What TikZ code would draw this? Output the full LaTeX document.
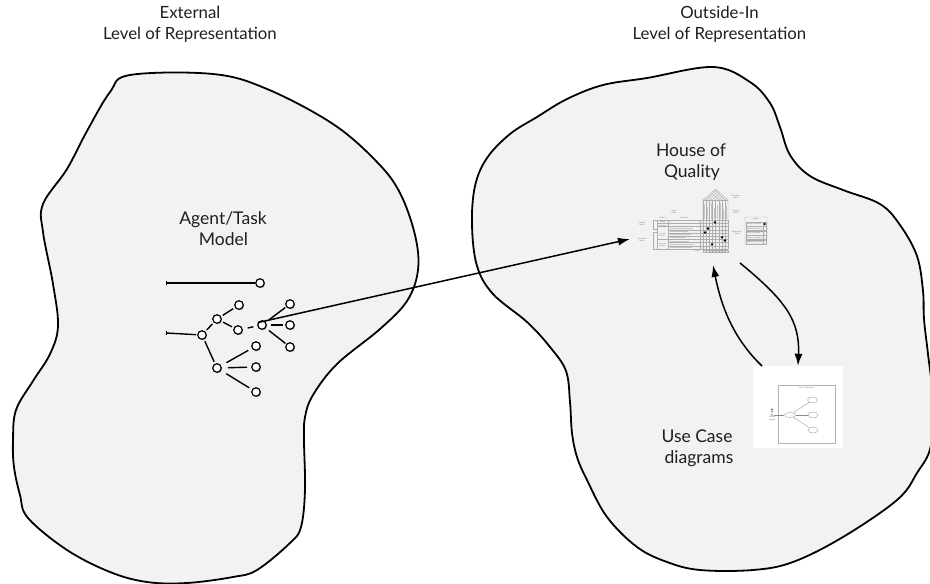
\documentclass[tikz,border=0pt]{standalone}
\usepackage{fontspec}
\setmainfont{Lato}
\usetikzlibrary{arrows.meta,shadows,shapes.geometric,calc}
\begin{document}
\begin{tikzpicture}[x=1pt,y=-1pt,
  region/.style={draw=black, line width=1.8pt, fill=black!5, line join=round},
  heading/.style={font=\fontsize{16.8}{20}\selectfont, text=black!88, anchor=base, inner sep=0pt},
  caption/.style={font=\fontsize{17.5}{22}\selectfont, text=black!88, anchor=base, inner sep=0pt},
  task/.style={circle, draw=black, fill=white, line width=1.2pt, minimum size=8.5pt, inner sep=0pt,
    drop shadow={shadow xshift=0.9pt, shadow yshift=-1pt, opacity=0.55, fill=black!60}},
  link/.style={line width=1.4pt},
  flow/.style={line width=1.5pt, -{Latex[length=12pt,width=8pt]}},
  fine/.style={draw=black!32, line width=0.2pt},
  bar/.style={draw=black!22, line width=0.5pt},
  minitext/.style={font=\fontsize{1.8}{2.2}\selectfont, text=black!55, inner sep=0pt, align=center},
  usecase/.style={ellipse, draw=black!45, line width=0.3pt, fill=white, inner sep=0pt},
]
\useasboundingbox (0,0) rectangle (930,584);

% ---------- the two regions ----------
\draw[region] plot[smooth cycle, tension=0.6] coordinates {
  (130,75) (213,74) (267,89) (333,124) (377,162) (400,193) (415,235) (418,270)
  (407,301) (380,329) (337,364) (313,395) (305,417) (304,440) (305,490) (301,527)
  (290,543) (257,570) (233,577) (187,583) (147,582) (110,572) (67,550) (28,518)
  (20,495) (14,467) (13,440) (16,410) (33,381) (50,354) (58,326) (53,284)
  (43,232) (43,204) (67,169) (87,131) (110,92)};

\draw[region] plot[smooth cycle, tension=0.6] coordinates {
  (647,78) (713,67) (750,82) (770,103) (780,127) (790,155) (810,176) (843,190)
  (880,204) (900,225) (917,256) (923,291) (924,319) (928,354) (932,392) (931,445)
  (917,473) (897,500) (843,537) (793,562) (753,570) (700,570) (667,562) (637,547)
  (607,517) (587,480) (577,457) (572,433) (570,402) (566,371) (550,347) (527,322)
  (493,294) (477,266) (472,225) (475,186) (487,158) (510,134) (537,117) (567,99)
  (603,85)};

% ---------- headings ----------
\node[heading] (ext1) at (190,18.3) {External};
\node[heading] (ext2) at (190,39.3) {Level of Representation};
\node[heading] (oi1) at (719.5,18.3) {Outside-In};
\node[heading] (oi2) at (719.5,39.3) {Level of Representation};

\node[caption] (at1) at (223,224) {Agent/Task};
\node[caption] (at2) at (223.5,245.6) {Model};
\node[caption] (hq1) at (691,156) {House of};
\node[caption] (hq2) at (692,177.6) {Quality};
\node[caption] (uc1) at (697,442.7) {Use Case};
\node[caption] (uc2) at (699,463.5) {diagrams};

% ---------- agent/task tree ----------
\coordinate (s1) at (166,283);
\coordinate (s2) at (166,333);
\draw[line width=1pt] (s1) ++(0,-2.2) -- ++(0,4.4);
\draw[line width=1pt] (s2) ++(0,-2.2) -- ++(0,4.4);

\node[task] (t1) at (260,283) {};
\node[task] (na) at (202,335) {};
\node[task] (nb) at (217,319) {};
\node[task] (nc) at (239,305) {};
\node[task] (nd) at (238,330) {};
\node[task] (ne) at (262,325) {};
\node[task] (nf) at (290,304) {};
\node[task] (ng) at (290,325) {};
\node[task] (nh) at (290,347) {};
\node[task] (ni) at (217,368) {};
\node[task] (nj) at (256,346) {};
\node[task] (nk) at (256,367) {};
\node[task] (nl) at (256,392) {};

\draw[link, shorten <=1pt, shorten >=0pt] (s1) -- (t1);
\draw[link, shorten <=1pt, shorten >=1pt] (s2) -- (na);
\draw[link, shorten <=2pt, shorten >=2pt] (na) -- (nb);
\draw[link, shorten <=2pt, shorten >=2pt] (nb) -- (nc);
\draw[link, shorten <=2pt, shorten >=2pt] (nb) -- (nd);
\draw[link, shorten <=5pt, shorten >=4pt] (nd) -- (ne);
\draw[link, shorten <=4pt, shorten >=1pt] (ne) -- (nf);
\draw[link, shorten <=4pt, shorten >=2pt] (ne) -- (ng);
\draw[link, shorten <=4pt, shorten >=1pt] (ne) -- (nh);
\draw[link, shorten <=2pt, shorten >=2pt] (na) -- (ni);
\draw[link, shorten <=6pt, shorten >=4pt] (ni) -- (nj);
\draw[link, shorten <=6pt, shorten >=4pt] (ni) -- (nk);
\draw[link, shorten <=6pt, shorten >=3pt] (ni) -- (nl);

% ---------- house of quality ----------
\begin{scope}
  % correlation roof
  \begin{scope}
    \clip (703,200) -- (715.5,189) -- (728,200) -- cycle;
    \foreach \k in {0,...,8} {
      \draw[fine] (703+\k*3.125,200) -- ++(11,-11);
      \draw[fine] (703+\k*3.125,200) -- ++(-11,-11);
    }
  \end{scope}
  \draw[fine] (703,220) -- (703,200) -- (715.5,189) -- (728,200) -- (728,220);
  % metric column headers
  \foreach \i/\l in {0/15,1/12,2/16,3/11,4/14,5/16,6/10,7/13} {
    \draw[fine] (703+\i*3.125,200) -- (703+\i*3.125,220);
    \draw[bar] (704.6+\i*3.125,219) -- ++(0,-\l);
  }
  \draw[fine] (703,200) -- (728,200);
  % relationship grid
  \foreach \j in {0,...,9} \draw[fine] (700,220+\j*3.2222) -- (728,220+\j*3.2222);
  \foreach \i in {0,...,8} \draw[fine] (703+\i*3.125,220) -- (703+\i*3.125,249);
  % target row
  \foreach \i in {0,...,7} \draw[fine] (703.4+\i*3.125,249.8) rectangle ++(2.4,2.6);
  \node[minitext] (tg) at (697,251.3) {Target};
  % needs table
  \draw[fine] (657,220) rectangle (700,249);
  \draw[fine] (668,220) -- (668,249);
  \foreach \j in {1,...,8} \draw[fine] (668,220+\j*3.2222) -- (700,220+\j*3.2222);
  \foreach \j in {1,2,6} \draw[fine] (657,220+\j*3.2222) -- (668,220+\j*3.2222);
  \foreach \j/\l in {2/23,3/18,4/21,5/16,6/19,7/24,8/22} \draw[bar] (670,221.6+\j*3.2222) -- ++(\l,0);
  \draw[bar] (660,221.6) -- ++(5,0);
  \draw[bar] (659,224.8) -- ++(7,0);
  \draw[bar] (659,233.5) -- ++(7,0);
  \draw[bar] (659,235.5) -- ++(6,0);
  \draw[bar] (659,243.5) -- ++(7,0);
  \draw[bar] (659,245.5) -- ++(6,0);
  \draw[fine] (657,220) -- (653,220) -- (653,229) -- (657,229);
  \draw[fine] (657,232) -- (653,232) -- (653,249) -- (657,249);
  \node[minitext] (pr) at (662.5,217.6) {Primary};
  \node[minitext] (se) at (684,217.6) {Secondary};
  \node[minitext] (un) at (674,211.5) {User\\Needs};
  \node[minitext] (ln1) at (642,224) {Usability\\Needs};
  \node[minitext] (ln2) at (642,239.5) {Functional\\Needs};
  % matrix labels
  \node[minitext] (cm) at (736,197) {Correlation\\Matrix};
  \node[minitext] (tm) at (736,212) {Technical\\Metrics};
  \node[minitext] (rm) at (737,233) {Relationship\\Matrix};
  % legend
  \draw[fine, rounded corners=0.6pt] (745,217) rectangle (767,244);
  \node[minitext] (lg) at (756,219.4) {Legend};
  \foreach \j/\t in {0/Strong Correlation,1/Medium Correlation,2/Weak Correlation,3/Positive Correlation,4/Negative Correlation} {
    \draw[fine] (746,222+\j*4.5) rectangle (766,226+\j*4.5);
    \node[minitext, anchor=west] at (746.6,224+\j*4.5) {\t};
    \draw[fine] (763,222+\j*4.5) -- (763,226+\j*4.5);
  }
  \fill (764.6,224) circle (1.2);
  % relationship marks
  \foreach \p in {(715,222.3),(708,228.5),(705,232.5),(722,237.3),(725,240.5),(712,244.3)}
    \fill \p circle (1.3);
\end{scope}
\coordinate (hoqin) at (630,239);
\coordinate (hoqout) at (740,263);
\coordinate (hoqback) at (713,265);

% ---------- use case diagram ----------
\node[fill=white, minimum width=90pt, minimum height=82pt, inner sep=0pt] (uc) at (798,407) {};
\draw[fine, draw=black!30] (778,385) rectangle (835,443);
\node[minitext] (uct) at (806.5,387.5) {Course Registration};
% actor
\coordinate (actor) at (772,413);
\draw[draw=black!60, line width=0.3pt] (772,409.5) circle (0.9)
  (772,410.4) -- (772,414) (770.5,411.5) -- (773.5,411.5)
  (772,414) -- (770.8,416) (772,414) -- (773.2,416);
\node[minitext] (act) at (772.5,418.5) {Student\\Registrar};
\node[usecase, minimum width=11pt, minimum height=5pt] (ucm) at (790,415) {};
\node[usecase, minimum width=10pt, minimum height=6pt] (uca) at (812.5,400) {};
\node[usecase, minimum width=10pt, minimum height=6pt] (ucb) at (813,415) {};
\node[usecase, minimum width=10pt, minimum height=6pt] (ucc) at (813,430) {};
\draw[draw=black!45, line width=0.3pt] (773.5,415) -- (ucm);
\draw[draw=black!45, line width=0.3pt] (ucm) -- (uca);
\draw[draw=black!45, line width=0.3pt] (ucm) -- (ucb);
\draw[draw=black!45, line width=0.3pt] (ucm) -- (ucc);
\coordinate (ucout) at (762,366);

% ---------- connectors ----------
\draw[flow] (ne.150) -- (hoqin);
\draw[flow] (hoqout) .. controls (785,300) and (800,320) .. (uc.north);
\draw[flow] (ucout) .. controls (735,340) and (722,310) .. (hoqback);
\end{tikzpicture}
\end{document}
